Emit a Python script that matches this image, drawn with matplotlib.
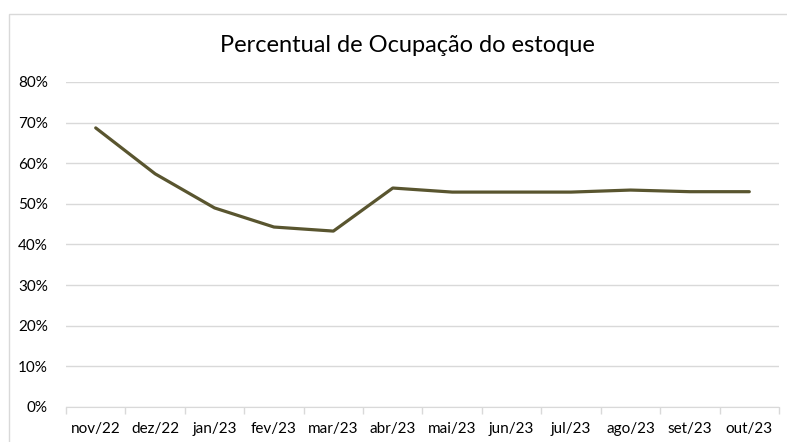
import matplotlib.pyplot as plt
from matplotlib.patches import Rectangle
from matplotlib.ticker import FixedLocator, PercentFormatter

plt.rcParams["font.family"] = ["Lato", "DejaVu Sans"]

# Data
meses = ["nov/22", "dez/22", "jan/23", "fev/23", "mar/23", "abr/23",
         "mai/23", "jun/23", "jul/23", "ago/23", "set/23", "out/23"]
ocupacao = [0.687, 0.574, 0.490, 0.443, 0.433, 0.539,
            0.529, 0.529, 0.529, 0.534, 0.530, 0.530]
y_ticks = [0, 0.1, 0.2, 0.3, 0.4, 0.5, 0.6, 0.7, 0.8]

W, H = 787, 442
fig = plt.figure(figsize=(W / 100, H / 100), dpi=100)
ax = fig.add_axes([66 / W, 1 - 407 / H, (779 - 66) / W, (407 - 82) / H])

# chart border (Excel style, cut off at right/bottom)
fig.patches.append(Rectangle((9 / W, -0.01), 1.0, 1 - 14 / H + 0.01,
                             transform=fig.transFigure, fill=False,
                             edgecolor="#d9d9d9", linewidth=1))

x = list(range(len(meses)))
ax.plot(x, ocupacao, color="#59552f", linewidth=2.3, solid_capstyle="round")

ax.set_xlim(-0.5, len(meses) - 0.5)
ax.set_ylim(0, 0.8)
ax.set_yticks(y_ticks)
ax.yaxis.set_major_formatter(PercentFormatter(1.0, decimals=0))
ax.grid(axis="y", color="#d9d9d9", linewidth=1)
ax.set_axisbelow(True)

ax.set_xticks(x)
ax.set_xticklabels(meses)
ax.xaxis.set_minor_locator(FixedLocator([i - 0.5 for i in range(len(meses) + 1)]))
ax.tick_params(axis="x", which="major", length=0, pad=11, labelsize=11, colors="#000000")
ax.tick_params(axis="x", which="minor", length=5, color="#d9d9d9", width=1)
ax.tick_params(axis="y", length=0, pad=13, labelsize=11)

for s in ["top", "right", "left"]:
    ax.spines[s].set_visible(False)
ax.spines["bottom"].set_color("#d9d9d9")

fig.text((218 + 597) / 2 / W, 1 - 46 / H, "Percentual de Ocupação do estoque",
         ha="center", va="center", fontsize=17, color="#000000")

fig.savefig("out.png", dpi=100)
